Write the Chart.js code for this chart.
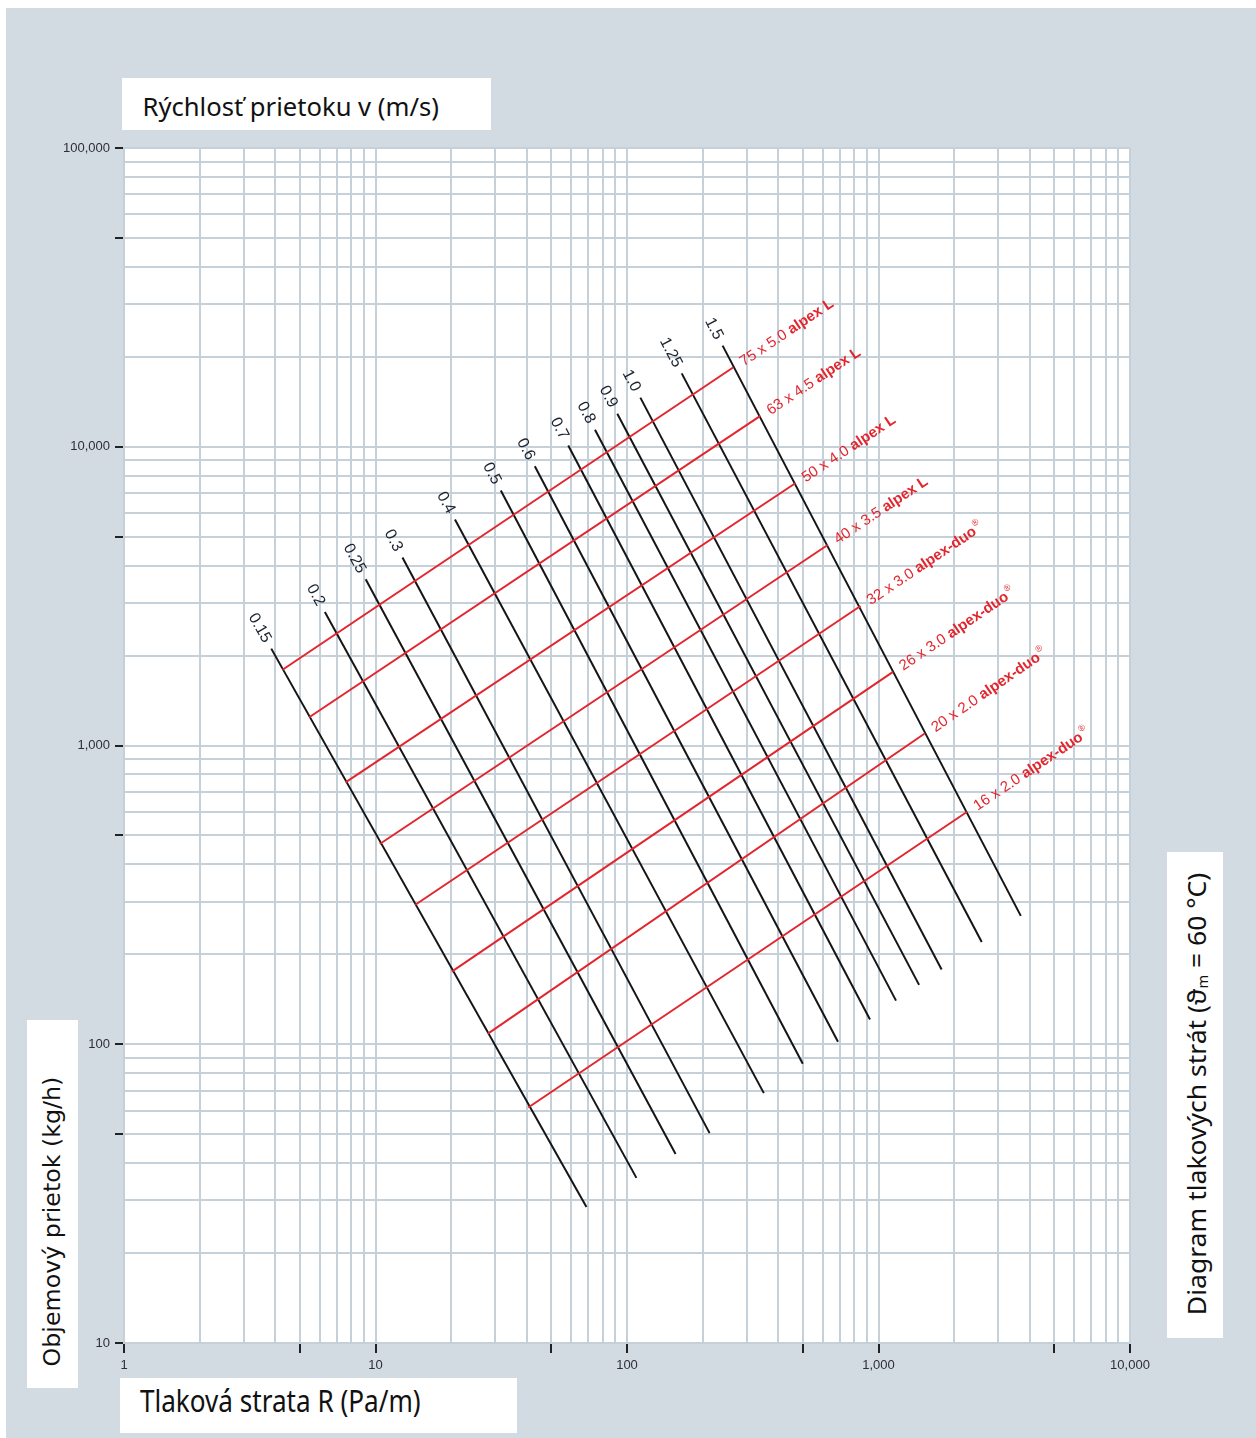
<!DOCTYPE html>
<html>
<head>
<meta charset="utf-8">
<script src="https://cdn.jsdelivr.net/npm/chart.js@4.4.1/dist/chart.umd.min.js"></script>
<style>
  html, body { margin: 0; padding: 0; background: #fff; }
  #wrap { position: relative; width: 1256px; height: 1438px; overflow: hidden; }
  #bg { position: absolute; left: 6px; top: 8px; right: 0; bottom: 0; background: #d2dbe1; }
  canvas { position: absolute; left: 0; top: 0; }
  .box { position: absolute; background: #fff; }
  .title { position: absolute; white-space: nowrap; line-height: 1; color: #111; transform-origin: 50% 50%; }
  .title sub { font-size: 0.55em; vertical-align: -0.15em; }
</style>
</head>
<body>
<div id="wrap">
  <div id="bg"></div>
  <canvas id="chart" width="1256" height="1438"></canvas>
  <div class="box" style="left:122px;top:78px;width:369px;height:52px"></div>
  <div class="box" style="left:120px;top:1378px;width:397px;height:55px"></div>
  <div class="box" style="left:27px;top:1020px;width:51px;height:368px"></div>
  <div class="box" style="left:1167px;top:852px;width:56px;height:486px"></div>
  <span class="title" data-len="296" data-cx="290" data-cy="106" data-rot="0"
        style="font-family:'Noto Sans';font-size:25px">Rýchlosť prietoku v (m/s)</span>
  <span class="title" data-len="281" data-cx="280" data-cy="1401" data-rot="0"
        style="font-family:'Noto Sans';font-size:30px">Tlaková strata R (Pa/m)</span>
  <span class="title" data-len="290" data-cx="52" data-cy="1221" data-rot="-90"
        style="font-family:'DejaVu Sans';font-size:23px">Objemový prietok (kg/h)</span>
  <span class="title" data-len="442" data-cx="1196" data-cy="1094" data-rot="-90"
        style="font-family:'Noto Sans';font-size:25px">Diagram tlakových strát (ϑ<sub>m</sub> = 60 °C)</span>
</div>
<script>
// axis ranges and ticks
const xMin = 1, xMax = 10000;
const yMin = 10, yMax = 100000;
const minorSteps = [1, 2, 3, 4, 5, 6, 7, 8, 9];
const xDecades = [1, 10, 100, 1000];
const yDecades = [10, 100, 1000, 10000];
const xTicks = xDecades.flatMap(d => minorSteps.map(m => m * d)).concat([10000]);
const yTicks = yDecades.flatMap(d => minorSteps.map(m => m * d)).concat([100000]);
const xLabelTicks = [1, 10, 100, 1000, 10000];
const yLabelTicks = [10, 100, 1000, 10000, 100000];
const markedSteps = [1, 5];

// velocity lines v (m/s): start (top-left) and end (bottom-right)
const velocityLabels = ['0.15', '0.2', '0.25', '0.3', '0.4', '0.5', '0.6', '0.7', '0.8', '0.9', '1.0', '1.25', '1.5'];
const velStartR = [3.85, 6.29, 9.14, 12.8, 20.7, 31.5, 43.0, 58.4, 74.6, 91.5, 113, 165, 240];
const velStartQ = [2110, 2800, 3600, 4260, 5710, 7140, 8610, 10100, 11400, 12900, 14600, 17600, 21800];
const velEndR = [69.0, 109, 156, 213, 350, 500, 690, 925, 1174, 1450, 1782, 2573, 3680];
const velEndQ = [28.5, 35.7, 42.9, 50.4, 68.6, 86.1, 102, 121, 140, 158, 178, 220, 269];

// pipe lines
const pipeSizes = ['75 x 5.0', '63 x 4.5', '50 x 4.0', '40 x 3.5', '32 x 3.0', '26 x 3.0', '20 x 2.0', '16 x 2.0'];
const pipeTypes = ['alpex L', 'alpex L', 'alpex L', 'alpex L', 'alpex-duo', 'alpex-duo', 'alpex-duo', 'alpex-duo'];
const pipeStartR = [4.27, 5.45, 7.60, 10.4, 14.4, 20.1, 28.0, 40.5];
const pipeStartQ = [1793, 1243, 753, 468, 293, 175, 108.5, 61.4];
const pipeEndR = [265, 339, 467, 628, 848, 1142, 1532, 2252];
const pipeEndQ = [18450, 12680, 7550, 4690, 2930, 1764, 1099, 600];

const red = '#e2262e';
const black = '#151515';
const gridColor = '#c6d0d8';

const datasets = [];
pipeSizes.forEach((size, i) => {
  datasets.push({
    kind: 'pipe', label: size, type2: pipeTypes[i],
    data: [{x: pipeStartR[i], y: pipeStartQ[i]}, {x: pipeEndR[i], y: pipeEndQ[i]}],
    borderColor: red, borderWidth: 2
  });
});
velocityLabels.forEach((v, i) => {
  datasets.push({
    kind: 'velocity', label: v,
    data: [{x: velStartR[i], y: velStartQ[i]}, {x: velEndR[i], y: velEndQ[i]}],
    borderColor: black, borderWidth: 2
  });
});

const plotBackground = {
  id: 'plotBackground',
  beforeDraw(chart) {
    const a = chart.chartArea;
    chart.ctx.save();
    chart.ctx.fillStyle = '#fff';
    chart.ctx.fillRect(a.left, a.top, a.right - a.left, a.bottom - a.top);
    chart.ctx.restore();
  }
};

const lineLabels = {
  id: 'lineLabels',
  afterDatasetsDraw(chart) {
    const ctx = chart.ctx;
    chart.data.datasets.forEach((ds, i) => {
      const pts = chart.getDatasetMeta(i).data;
      const p0 = pts[0], p1 = pts[1];
      const ang = Math.atan2(p1.y - p0.y, p1.x - p0.x);
      ctx.save();
      ctx.textBaseline = 'middle';
      if (ds.kind === 'velocity') {
        ctx.translate(p0.x, p0.y);
        ctx.rotate(ang);
        ctx.font = '16px "Liberation Sans"';
        ctx.fillStyle = '#1b2330';
        ctx.textAlign = 'right';
        ctx.fillText(ds.label, -8, 0);
      } else {
        ctx.translate(p1.x, p1.y);
        ctx.rotate(ang);
        ctx.fillStyle = red;
        ctx.textAlign = 'left';
        let x = 9;
        ctx.font = '15px "Liberation Sans"';
        ctx.fillText(ds.label + ' ', x, 1);
        x += ctx.measureText(ds.label + ' ').width;
        ctx.font = 'bold 15px "Liberation Sans"';
        ctx.fillText(ds.type2, x, 1);
        x += ctx.measureText(ds.type2).width;
        if (ds.type2 === 'alpex-duo') {
          ctx.font = '9px "Liberation Sans"';
          ctx.fillText('®', x + 1, -5);
        }
      }
      ctx.restore();
    });
  }
};

function tickMarkColor(ctx) {
  const v = ctx.tick && ctx.tick.value;
  if (!v) return 'rgba(0,0,0,0)';
  const sig = Math.round(v / Math.pow(10, Math.floor(Math.log10(v) + 1e-9)));
  return markedSteps.includes(sig) ? '#222' : 'rgba(0,0,0,0)';
}

new Chart(document.getElementById('chart'), {
  type: 'scatter',
  data: { datasets },
  options: {
    responsive: false,
    animation: false,
    showLine: true,
    elements: { point: { radius: 0, hoverRadius: 0 }, line: { tension: 0 } },
    layout: { padding: { left: 20, right: 126, top: 148, bottom: 0 } },
    plugins: { legend: { display: false }, tooltip: { enabled: false } },
    scales: {
      x: {
        type: 'logarithmic', min: xMin, max: xMax,
        afterBuildTicks: s => { s.ticks = xTicks.map(v => ({value: v})); },
        afterFit: s => { s.height = 95; },
        grid: { color: gridColor, lineWidth: 2, drawTicks: true, tickLength: 10, tickWidth: 2, tickColor: tickMarkColor },
        border: { color: gridColor, width: 2 },
        ticks: {
          autoSkip: false, maxRotation: 0, minRotation: 0, padding: 5,
          color: '#2e2e3a', font: { family: 'Liberation Sans', size: 13 },
          callback: v => xLabelTicks.includes(v) ? v.toLocaleString('en-US') : ''
        }
      },
      y: {
        type: 'logarithmic', min: yMin, max: yMax,
        afterBuildTicks: s => { s.ticks = yTicks.map(v => ({value: v})); },
        afterFit: s => { s.width = 104; },
        grid: { color: gridColor, lineWidth: 2, drawTicks: true, tickLength: 9, tickWidth: 2, tickColor: tickMarkColor },
        border: { color: gridColor, width: 2 },
        ticks: {
          autoSkip: false, padding: 5,
          color: '#2e2e3a', font: { family: 'Liberation Sans', size: 13 },
          callback: v => yLabelTicks.includes(v) ? v.toLocaleString('en-US') : ''
        }
      }
    }
  },
  plugins: [plotBackground, lineLabels]
});

// fit the boxed titles to their measured lengths
document.querySelectorAll('.title').forEach(el => {
  const w = el.offsetWidth, h = el.offsetHeight;
  const s = +el.dataset.len / w;
  el.style.left = (+el.dataset.cx - w / 2) + 'px';
  el.style.top = (+el.dataset.cy - h / 2) + 'px';
  el.style.transform = 'rotate(' + el.dataset.rot + 'deg) scaleX(' + s.toFixed(3) + ')';
});
</script>
</body>
</html>
